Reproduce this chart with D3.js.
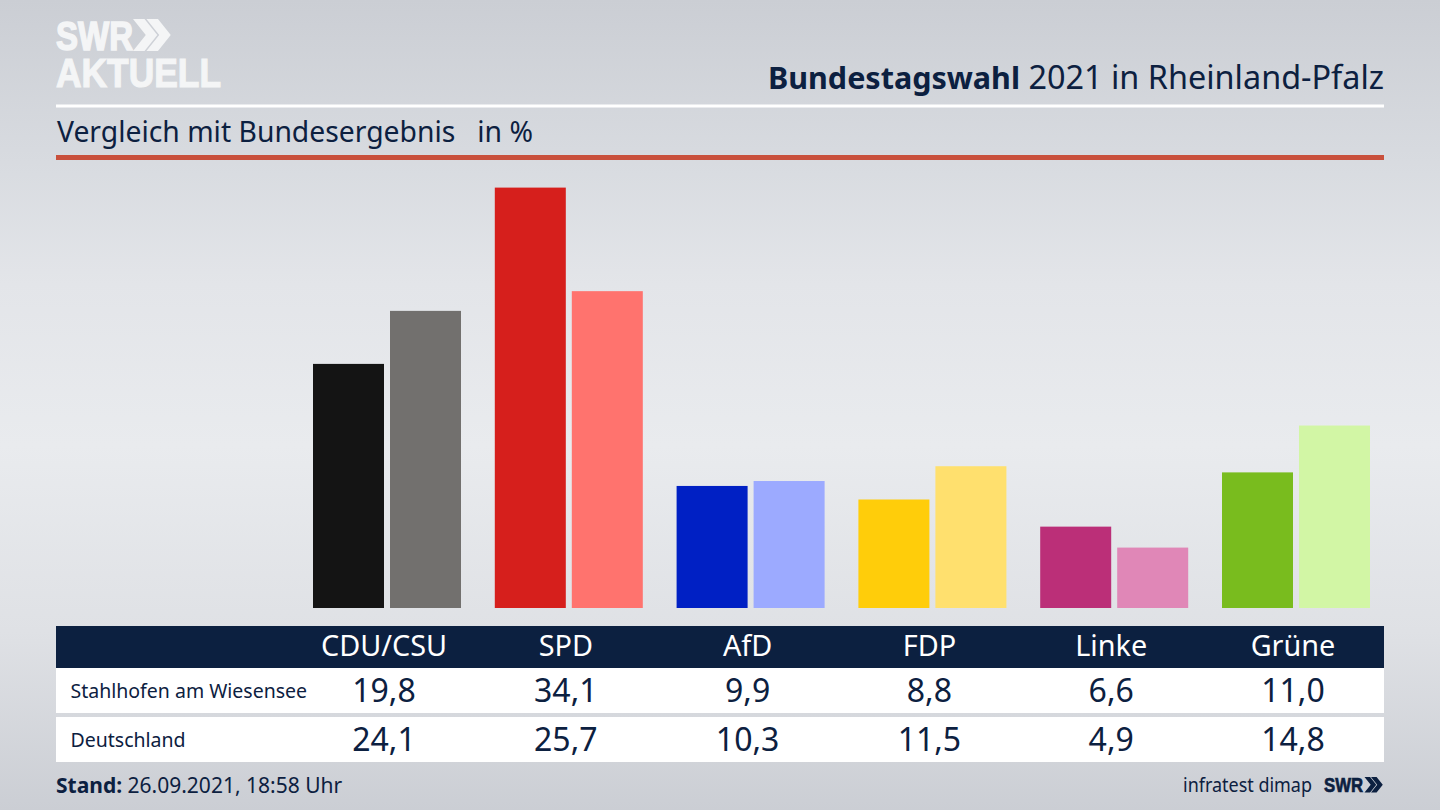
<!DOCTYPE html>
<html lang="de">
<head>
<meta charset="UTF-8">
<title>Bundestagswahl 2021 in Rheinland-Pfalz</title>
<script src="https://d3js.org/d3.v7.min.js"></script>
<style>
    html, body { margin: 0; padding: 0; background: #d5d8dd; overflow: hidden; }
    svg { display: block; }
    text { font-family: "Noto Sans", sans-serif; fill: #0c2040; }
    .logo { font-family: "Liberation Sans", sans-serif; font-weight: 700; }
</style>
</head>
<body>
<svg id="chart" width="1440" height="810"></svg>
<script>
const parties = ["CDU/CSU", "SPD", "AfD", "FDP", "Linke", "Grüne"];
const localValues = [19.8, 34.1, 9.9, 8.8, 6.6, 11.0];
const nationalValues = [24.1, 25.7, 10.3, 11.5, 4.9, 14.8];
const localColors = ["#141414", "#d61f1c", "#0020c4", "#ffcd0a", "#bb2f78", "#79bc1e"];
const nationalColors = ["#72706e", "#ff736e", "#9caaff", "#ffe06e", "#e087b7", "#d2f6a5"];
const rowLabels = ["Stahlhofen am Wiesensee", "Deutschland"];

const navy = "#0c2040";
const logoWhite = "#f4f5f6";
const svg = d3.select("#chart");
const fmt = v => v.toFixed(1).replace(".", ",");

// background, light band through the middle
const defs = svg.append("defs");
const bg = defs.append("linearGradient").attr("id", "bg")
    .attr("x1", 0).attr("y1", 0).attr("x2", 0).attr("y2", 1);
[[0, "#cbced4"], [0.2, "#d8dbe0"], [0.35, "#e3e5e9"], [0.55, "#e9ebee"], [0.78, "#dfe1e5"], [1, "#cbced4"]].forEach(s => {
    bg.append("stop").attr("offset", s[0]).attr("stop-color", s[1]);
});
svg.append("rect").attr("width", 1440).attr("height", 810).attr("fill", "url(#bg)");

// scales
const x = d3.scalePoint().domain(parties).range([384, 1293]);
const y = d3.scaleLinear().domain([0, 34.1]).range([608, 187.6]);
const barW = 71;

// bars
const groups = svg.selectAll("g.party").data(parties).enter().append("g").attr("class", "party");
groups.append("rect")
    .attr("x", d => x(d) - 71)
    .attr("y", (d, i) => y(localValues[i]))
    .attr("width", barW)
    .attr("height", (d, i) => y(0) - y(localValues[i]))
    .attr("fill", (d, i) => localColors[i]);
groups.append("rect")
    .attr("x", d => x(d) + 6)
    .attr("y", (d, i) => y(nationalValues[i]))
    .attr("width", barW)
    .attr("height", (d, i) => y(0) - y(nationalValues[i]))
    .attr("fill", (d, i) => nationalColors[i]);

// header rules
svg.append("rect").attr("x", 56).attr("y", 104.5).attr("width", 1328).attr("height", 3).attr("fill", "#fff");
svg.append("rect").attr("x", 56).attr("y", 155).attr("width", 1328).attr("height", 5).attr("fill", "#c9503c");

// title
const title = svg.append("text").attr("x", 1384).attr("y", 89).attr("text-anchor", "end");
title.append("tspan").attr("font-weight", 700).attr("font-size", 30.5).text("Bundestagswahl");
title.append("tspan").attr("font-size", 32.4).text(" 2021 in Rheinland-Pfalz");

svg.append("text").attr("x", 57).attr("y", 142).attr("font-size", 28.3)
    .style("white-space", "pre").text("Vergleich mit Bundesergebnis   in %");

// logo top left, stroke makes the letters as heavy as the SWR mark
svg.append("text").attr("class", "logo").attr("x", 56).attr("y", 50).attr("font-size", 41)
    .attr("textLength", 77).attr("lengthAdjust", "spacingAndGlyphs")
    .style("fill", logoWhite).style("stroke", logoWhite).style("stroke-width", 1.6).text("SWR");
svg.append("text").attr("class", "logo").attr("x", 56).attr("y", 87).attr("font-size", 41)
    .attr("textLength", 165).attr("lengthAdjust", "spacingAndGlyphs")
    .style("fill", logoWhite).style("stroke", logoWhite).style("stroke-width", 1.2).text("AKTUELL");
function chevrons(x0, y0, h, color) {
    const w = h * 0.4, t = h * 0.36;
    [0, 0.42].forEach(k => {
        const l = x0 + k * h;
        svg.append("path")
            .attr("d", `M${l},${y0} L${l + t},${y0} L${l + t + w},${y0 + h / 2} L${l + t},${y0 + h} L${l},${y0 + h} L${l + w},${y0 + h / 2} Z`)
            .attr("fill", color);
    });
}
chevrons(133, 19, 32, logoWhite);

// table
svg.append("rect").attr("x", 56).attr("y", 626).attr("width", 1328).attr("height", 42).attr("fill", navy);
svg.append("rect").attr("x", 56).attr("y", 668).attr("width", 1328).attr("height", 45).attr("fill", "#fff");
svg.append("rect").attr("x", 56).attr("y", 717).attr("width", 1328).attr("height", 45).attr("fill", "#fff");

svg.selectAll("text.head").data(parties).enter().append("text").attr("class", "head")
    .attr("x", d => x(d)).attr("y", 656).attr("text-anchor", "middle").attr("font-size", 28.8)
    .style("fill", "#fff").text(d => d);

[localValues, nationalValues].forEach((vals, r) => {
    const base = r === 0 ? 702 : 751;
    svg.append("text").attr("x", 70.5).attr("y", base - 4.5).attr("font-size", 19.5).text(rowLabels[r]);
    svg.selectAll("text.val" + r).data(parties).enter().append("text").attr("class", "val" + r)
        .attr("x", d => x(d)).attr("y", base).attr("text-anchor", "middle").attr("font-size", 32)
        .text((d, i) => fmt(vals[i]));
});

// footer
const stand = svg.append("text").attr("x", 56).attr("y", 793).attr("font-size", 21);
stand.append("tspan").attr("font-weight", 700).text("Stand:");
stand.append("tspan").text(" 26.09.2021, 18:58 Uhr");
svg.append("text").attr("x", 1312).attr("y", 792).attr("text-anchor", "end").attr("font-size", 19.5)
    .attr("textLength", 129).attr("lengthAdjust", "spacingAndGlyphs").text("infratest dimap");
svg.append("text").attr("class", "logo").attr("x", 1324).attr("y", 792).attr("font-size", 21)
    .attr("textLength", 39).attr("lengthAdjust", "spacingAndGlyphs")
    .style("stroke", navy).style("stroke-width", 0.7).text("SWR");
chevrons(1364.5, 777, 15.5, navy);
</script>
</body>
</html>
